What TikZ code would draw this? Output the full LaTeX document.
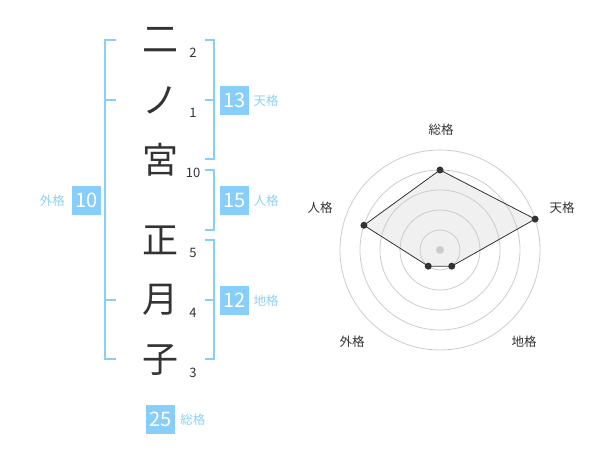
\documentclass[tikz,border=0pt]{standalone}
\usepackage{fontspec}
\setmainfont{Noto Sans CJK JP}
\usetikzlibrary{positioning,calc}
\definecolor{kaku}{RGB}{135,206,250}
\definecolor{kakutext}{RGB}{140,208,250}
\definecolor{ink}{RGB}{51,51,51}
\tikzset{
  kanji/.style={font=\fontsize{36}{36}\selectfont, text=ink, inner sep=0pt},
  strokes/.style={font=\fontsize{13}{13}\selectfont, text=ink, inner sep=0pt},
  numbox/.style={fill=kaku, text=white, minimum size=29pt, inner sep=0pt, font=\fontsize{20}{20}\selectfont},
  kakulabel/.style={text=kakutext, font=\fontsize{12.5}{12.5}\selectfont, inner sep=0pt},
  brace/.style={draw=kaku, line width=2pt},
  ring/.style={draw=black!20, line width=0.8pt},
  axislabel/.style={text=ink, font=\fontsize{12.5}{12.5}\selectfont, inner sep=0pt},
  dot/.style={circle, fill=ink, inner sep=0pt, minimum size=7pt}
}
\begin{document}
\begin{tikzpicture}[x=1pt, y=-1pt]
    \useasboundingbox (0,0) rectangle (600,470);
    % name and strokes
    \foreach \k/\n/\y in {二/2/40, ノ/1/100, 宮/10/160, 正/5/240, 月/4/300, 子/3/360} {
        \node[kanji] (k\y) at (160,\y) {\k};
        \node[strokes] (s\y) at (193,\y+13) {\n};
    }
    % brackets
    \draw[brace] (116,40) -- (105,40) -- (105,359) -- (116,359);
    \draw[brace] (105,100) -- (116,100) (105,300) -- (116,300);
    \draw[brace] (205,40) -- (214,40) -- (214,159) -- (205,159) (205,100) -- (214,100);
    \draw[brace] (205,170) -- (214,170) -- (214,230) -- (205,230);
    \draw[brace] (205,240) -- (214,240) -- (214,359) -- (205,359) (205,300) -- (214,300);
    % kaku
    \node[numbox] (ten) at (234.7,100.3) {13};
    \node[kakulabel, right=4pt of ten] (tenl) {天格};
    \node[numbox] (jin) at (234.7,200.3) {15};
    \node[kakulabel, right=4pt of jin] (jinl) {人格};
    \node[numbox] (chi) at (234.7,300.5) {12};
    \node[kakulabel, right=4pt of chi] (chil) {地格};
    \node[numbox] (gai) at (86.3,200.3) {10};
    \node[kakulabel, left=6.5pt of gai] (gail) {外格};
    \node[numbox] (sou) at (160.5,419.7) {25};
    \node[kakulabel, right=5pt of sou] (soul) {総格};
    % radar
    \begin{scope}[shift={(440,250)}]
        \coordinate (c) at (0,0);
        \foreach \a/\v [count=\i] in {90/80, 18/100, -54/20, -126/20, 162/80}
            \coordinate (p\i) at (\a:\v pt);
        \fill[black!6] (p1) -- (p2) -- (p3) -- (p4) -- (p5) -- cycle;
        \foreach \r in {20,40,...,100}
            \draw[ring] (c) circle[radius=\r pt];
        \draw[ink, line width=0.8pt] (p1) -- (p2) -- (p3) -- (p4) -- (p5) -- cycle;
        \foreach \i in {1,...,5}
            \node[dot] at (p\i) {};
        \fill[black!20] (c) circle[radius=4pt];
        \node[axislabel] (asou) at (1,-120) {総格};
        \node[axislabel] (aten) at (122,-42) {天格};
        \node[axislabel] (achi) at (84,92) {地格};
        \node[axislabel] (agai) at (-88,92) {外格};
        \node[axislabel] (ajin) at (-120,-42) {人格};
    \end{scope}
\end{tikzpicture}
\end{document}
